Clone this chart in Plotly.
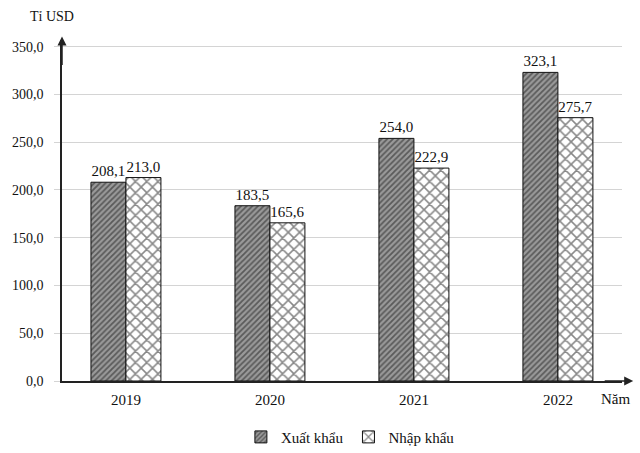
import plotly.graph_objects as go

years = ["2019", "2020", "2021", "2022"]
xuat_khau = [208.1, 183.5, 254.0, 323.1]
nhap_khau = [213.0, 165.6, 222.9, 275.7]
y_ticks = [0, 50, 100, 150, 200, 250, 300, 350]


def vn(v):
  # Vietnamese decimal comma
  return f"{v:.1f}".replace(".", ",")


serif = "Liberation Serif"
fig = go.Figure()

fig.add_trace(go.Bar(
  x=years, y=xuat_khau, name="Xuất khẩu",
  text=[vn(v) for v in xuat_khau], textposition="outside", cliponaxis=False,
  marker=dict(color="#8c8c8c", line=dict(color="#111", width=1),
              pattern=dict(shape="/", fgcolor="#1a1a1a", bgcolor="#9a9a9a", size=4, solidity=0.45)),
))
fig.add_trace(go.Bar(
  x=years, y=nhap_khau, name="Nhập khẩu",
  text=[vn(v) for v in nhap_khau], textposition="outside", cliponaxis=False,
  marker=dict(color="white", line=dict(color="#111", width=1),
              pattern=dict(shape="x", fgcolor="#111", bgcolor="white", size=8, solidity=0.35)),
))

fig.update_traces(textfont=dict(family=serif, size=15, color="#111"))

fig.update_layout(
  width=640, height=453,
  margin=dict(l=62, r=18, t=40, b=72),
  paper_bgcolor="white", plot_bgcolor="white",
  font=dict(family=serif, size=14, color="#111"),
  barmode="group", bargap=0.514, bargroupgap=0,
  showlegend=True,
  legend=dict(orientation="h", x=0.515, xanchor="center", yref="container", y=0.035, yanchor="middle",
              font=dict(family=serif, size=15, color="#111"), itemwidth=30),
  xaxis=dict(range=[-0.444, 3.445], showline=True, linecolor="#222", linewidth=1.5,
             ticks="", ticklabelstandoff=4, tickfont=dict(family=serif, size=15, color="#111")),
  yaxis=dict(range=[0, 357], tickvals=y_ticks, ticktext=[vn(v) for v in y_ticks],
             showline=True, linecolor="#222", linewidth=1.5,
             showgrid=True, gridcolor="#d4d4d4", gridwidth=1,
             ticks="outside", ticklen=6, tickcolor="#d4d4d4", ticklabelstandoff=8,
             tickfont=dict(family=serif, size=14, color="#111")),
  annotations=[
    dict(text="Tỉ USD", xref="paper", yref="paper", x=-0.061, y=1.0, yshift=14,
         xanchor="left", yanchor="bottom", showarrow=False, font=dict(size=14)),
    dict(text="Năm", xref="paper", yref="paper", x=1.018, y=0, yshift=-8,
         xanchor="right", yanchor="top", showarrow=False, font=dict(size=15)),
    # axis arrows
    dict(text="", xref="paper", yref="paper", x=1.02, y=0, ax=-30, ay=0,
         showarrow=True, arrowhead=2, arrowsize=1.2, arrowwidth=1.5, arrowcolor="#222"),
    dict(text="", xref="paper", yref="paper", x=0, y=1.01, ax=0, ay=30,
         showarrow=True, arrowhead=2, arrowsize=1.2, arrowwidth=1.5, arrowcolor="#222"),
  ],
)

# default page margin shifts the chart; drop it
fig.write_html("out.html", config={"displayModeBar": False},
               post_script="document.body.style.margin='0';")
